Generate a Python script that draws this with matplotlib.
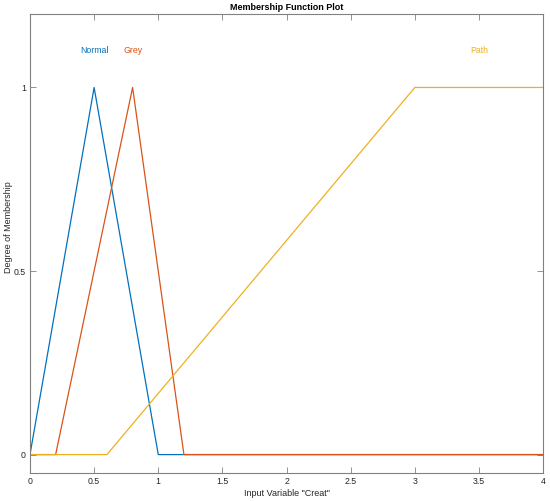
import numpy as np
import matplotlib.pyplot as plt

# membership function breakpoints (x, y)
normal_x = [0, 0.5, 1, 4]
normal_y = [0, 1, 0, 0]
grey_x = [0, 0.2, 0.8, 1.2, 4]
grey_y = [0, 0, 1, 0, 0]
path_x = [0, 0.6, 3, 4]
path_y = [0, 0, 1, 1]

names = ["Normal", "Grey", "Path"]
label_x = [0.5, 0.8, 3.5]
colors = ["#0072BD", "#D95319", "#EDB120"]


def main():
    plt.rcParams.update(
        {
            "font.family": ["Liberation Sans", "DejaVu Sans"],
            "font.size": 6.3,
            "xtick.direction": "in",
            "ytick.direction": "in",
            "xtick.top": True,
            "ytick.right": True,
            "axes.edgecolor": "#808080",
            "xtick.color": "#808080",
            "ytick.color": "#808080",
            "xtick.labelcolor": "#262626",
            "ytick.labelcolor": "#262626",
        }
    )
    fig = plt.figure(figsize=(5.5, 5.01), dpi=100)
    ax = fig.add_axes([0.0545, 0.056, 0.933, 0.916])

    series = [(normal_x, normal_y), (grey_x, grey_y), (path_x, path_y)]
    for (xs, ys), name, lx, c in zip(series, names, label_x, colors):
        ax.plot(xs, ys, color=c, lw=0.9)
        ax.text(lx, 1.1, name, color=c, ha="center", va="center", fontsize=6.3)

    ax.set_xlim(0, 4)
    ax.set_ylim(-0.05, 1.2)
    ax.set_xticks(np.arange(0, 4.01, 0.5))
    ax.set_xticklabels(["0", "0.5", "1", "1.5", "2", "2.5", "3", "3.5", "4"])
    ax.set_yticks([0, 0.5, 1])
    ax.set_yticklabels(["0", "0.5", "1"])
    ax.tick_params(length=4, width=0.6, pad=3)
    for s in ax.spines.values():
        s.set_linewidth(0.8)

    ax.set_xlabel('Input Variable "Creat"', fontsize=6.5, labelpad=2, color="#262626")
    ax.set_ylabel("Degree of Membership", fontsize=6.5, color="#262626")
    ax.yaxis.set_label_coords(-0.033, 0.536)
    ax.set_title("Membership Function Plot", fontsize=6.5, fontweight="bold", pad=3)

    fig.savefig("out.png", dpi=100)


if __name__ == "__main__":
    main()
